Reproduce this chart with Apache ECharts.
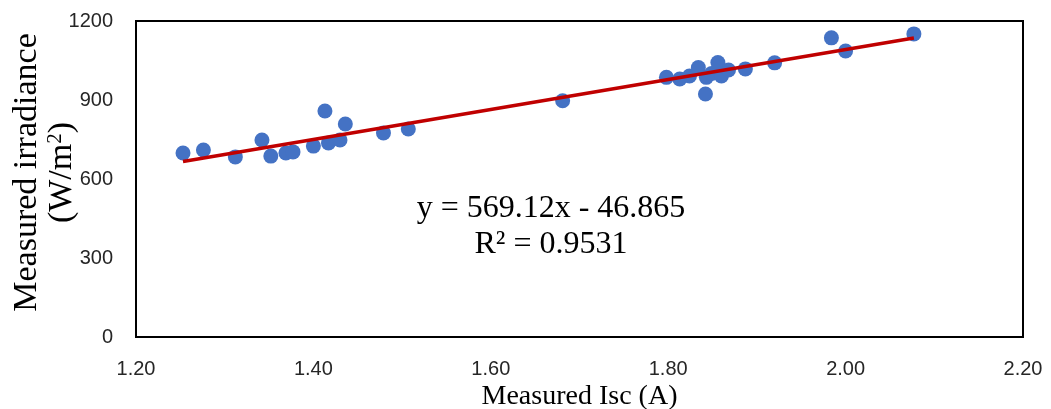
<!DOCTYPE html>
<html>
<head>
<meta charset="utf-8">
<script src="https://cdn.jsdelivr.net/npm/echarts@6/dist/echarts.min.js"></script>
<style>
html,body{margin:0;padding:0;background:#fff;}
#chart{width:1051px;height:409px;}
</style>
</head>
<body>
<div id="chart"></div>
<script>
// measured points (Isc in A, irradiance in W/m2)
var isc = [1.253, 1.276, 1.312, 1.342, 1.352, 1.369, 1.377, 1.400, 1.413, 1.417, 1.430, 1.436, 1.479, 1.507,
    1.681, 1.798, 1.813, 1.824, 1.834, 1.842, 1.843, 1.849, 1.856, 1.860, 1.868, 1.887, 1.920, 1.984, 2.000, 2.077];
var irradiance = [699, 710, 684, 748, 687, 699, 703, 725, 858, 737, 748, 809, 775, 790,
    897, 986, 980, 991, 1023, 923, 986, 1001, 1042, 991, 1014, 1018, 1041, 1136, 1086, 1151];
// excel linear trendline
var slope = 569.12;
var intercept = -46.865;
var r2 = 0.9531;
var xTicks = [1.2, 2.2, 0.2];   // min, max, step
var yTicks = [0, 1200, 300];

var chart = echarts.init(document.getElementById("chart"));

var points = [];
for (var i = 0; i < isc.length; i++) {
    points.push([isc[i], irradiance[i]]);
}
var xMin = Math.min.apply(null, isc), xMax = Math.max.apply(null, isc);
var trend = [[xMin, slope * xMin + intercept], [xMax, slope * xMax + intercept]];

var serif = "'Liberation Serif','DejaVu Serif',serif";
var sans = "'Liberation Sans','Open Sans',sans-serif";

chart.setOption({
    animation: false,
    backgroundColor: '#fff',
    grid: {left: 136, right: 28, top: 21, bottom: 72, outerBoundsMode: 'none', containLabel: false,
        show: true, borderColor: '#000', borderWidth: 2},
    xAxis: {
        type: 'value', min: xTicks[0], max: xTicks[1], interval: xTicks[2],
        name: 'Measured Isc (A)', nameLocation: 'middle', nameGap: 46, nameMoveOverlap: false,
        nameTextStyle: {fontFamily: serif, fontSize: 28, color: '#000'},
        axisLine: {show: true, lineStyle: {color: '#000', width: 2}},
        axisTick: {show: false},
        splitLine: {show: false},
        axisLabel: {margin: 22, fontFamily: sans, fontSize: 20, color: '#262626',
            formatter: function (v) { return v.toFixed(2); }}
    },
    yAxis: {
        type: 'value', min: yTicks[0], max: yTicks[1], interval: yTicks[2],
        name: '{a|Measured irradiance}\n{a|(W/m}{s|2}{a|)}', nameLocation: 'middle', nameGap: 56, nameMoveOverlap: false,
        nameTextStyle: {
            padding: [0, 0, 0, 13],
            rich: {
                a: {fontFamily: serif, fontSize: 34, color: '#000', lineHeight: 35},
                s: {fontFamily: serif, fontSize: 21, color: '#000', lineHeight: 35, verticalAlign: 'top', padding: [0, 0, 14, 0]}
            }
        },
        axisLine: {show: true, lineStyle: {color: '#000', width: 2}},
        axisTick: {show: false},
        splitLine: {show: false},
        axisLabel: {margin: 23, fontFamily: sans, fontSize: 20, color: '#262626',
            formatter: function (v) { return String(v); }}
    },
    series: [
        {
            type: 'scatter', data: points, symbolSize: 15,
            itemStyle: {color: '#4472C4', opacity: 1}
        },
        {
            type: 'line', data: trend, showSymbol: false, z: 3,
            lineStyle: {color: '#C00000', width: 3.5}
        }
    ],
    graphic: [
        {type: 'text', x: 551, y: 191,
            style: {text: 'y = ' + slope + 'x - ' + Math.abs(intercept) + '\nR² = ' + r2,
                font: '32px ' + serif, fill: '#000', align: 'center', lineHeight: 36}}
    ]
});
</script>
</body>
</html>
